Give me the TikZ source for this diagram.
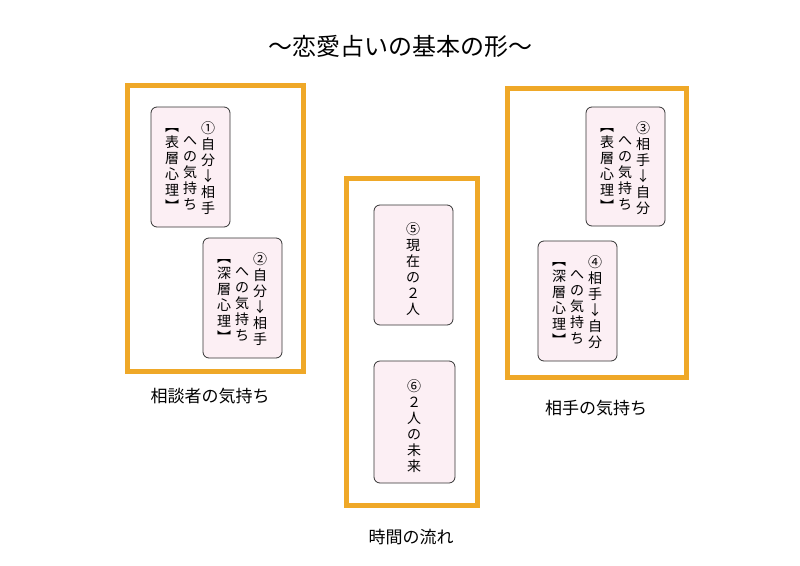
\documentclass[tikz,border=0pt]{standalone}
\usepackage{fontspec}
\newfontfamily\cjk{Noto Sans CJK JP}
\definecolor{frameor}{HTML}{EFA828}
\definecolor{cardpk}{HTML}{FCEFF4}
\begin{document}
\begin{tikzpicture}[x=1pt,y=-1pt,
  frame/.style={draw=frameor,line width=5pt},
  card/.style={draw=black!80,fill=cardpk,rounded corners=6pt,line width=0.8pt},
  col/.style={anchor=north,align=center,inner sep=0pt,font=\cjk\fontsize{14}{16}\selectfont},
  lab/.style={font=\cjk\fontsize{17}{20}\selectfont}]
\useasboundingbox (0,0) rectangle (800,565);
\node[font=\cjk\fontsize{24}{28}\selectfont] (title) at (400,46) {～恋愛占いの基本の形～};
% frames
\draw[frame] (127,85) rectangle (303,371);
\draw[frame] (346,178) rectangle (477,505);
\draw[frame] (507,88) rectangle (686,377);
% cards
\draw[card] (151,107) rectangle (230,227);
\draw[card] (203,238) rectangle (282,358);
\draw[card] (374,205) rectangle (453,325);
\draw[card] (374,361) rectangle (455,483);
\draw[card] (586,107) rectangle (665,226);
\draw[card] (538,241) rectangle (617,361);
% card 1
\node[col] (c1a) at (208,121) {①\\自\\分\\↓\\相\\手};
\node[col] (c1b) at (190,136) {へ\\の\\気\\持\\ち};
\node[col] (c1c) at (172,128) {︻\\表\\層\\心\\理\\︼};
% card 2
\node[col] (c2a) at (260,252) {②\\自\\分\\↓\\相\\手};
\node[col] (c2b) at (242,267) {へ\\の\\気\\持\\ち};
\node[col] (c2c) at (224,259) {︻\\深\\層\\心\\理\\︼};
% card 3
\node[col] (c3a) at (643,121) {③\\相\\手\\↓\\自\\分};
\node[col] (c3b) at (625,136) {へ\\の\\気\\持\\ち};
\node[col] (c3c) at (607,128) {︻\\表\\層\\心\\理\\︼};
% card 4
\node[col] (c4a) at (595,255) {④\\相\\手\\↓\\自\\分};
\node[col] (c4b) at (577,270) {へ\\の\\気\\持\\ち};
\node[col] (c4c) at (559,262) {︻\\深\\層\\心\\理\\︼};
% card 5,6
\node[col] (c5) at (413,222) {⑤\\現\\在\\の\\２\\人};
\node[col] (c6) at (414,379) {⑥\\２\\人\\の\\未\\来};
% labels
\node[lab] (l1) at (210,396) {相談者の気持ち};
\node[lab] (l2) at (596,408) {相手の気持ち};
\node[lab] (l3) at (411,537) {時間の流れ};
\end{tikzpicture}
\end{document}
